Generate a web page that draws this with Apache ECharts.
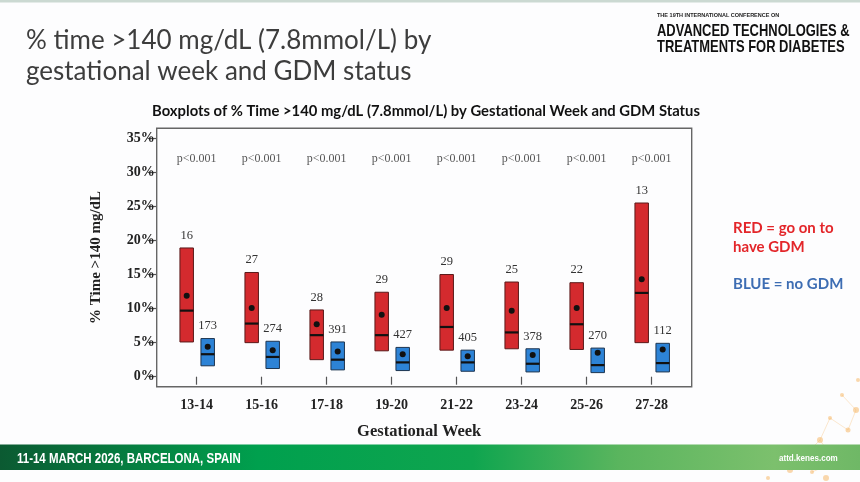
<!DOCTYPE html>
<html>
<head>
<meta charset="utf-8">
<title>% time >140 mg/dL by gestational week and GDM status</title>
<script src="https://cdn.jsdelivr.net/npm/echarts@6/dist/echarts.min.js"></script>
<style>
  html, body { margin: 0; padding: 0; background: #fdfdfe; }
  #chart { width: 860px; height: 482px; }
</style>
</head>
<body>
<div id="chart"></div>
<script>
// gestational week groups
var weeks = ['13-14', '15-16', '17-18', '19-20', '21-22', '23-24', '25-26', '27-28'];
var pValues = ['p<0.001', 'p<0.001', 'p<0.001', 'p<0.001', 'p<0.001', 'p<0.001', 'p<0.001', 'p<0.001'];
var pValueLevel = 32;

// RED: went on to have GDM (% time >140 mg/dL)
var gdmN = [16, 27, 28, 29, 29, 25, 22, 13];
var gdmQ1 = [5.1, 5.0, 2.5, 3.8, 3.9, 4.1, 4.0, 5.0];
var gdmMedian = [9.7, 7.8, 6.1, 6.1, 7.3, 6.5, 7.7, 12.3];
var gdmQ3 = [18.9, 15.3, 9.8, 12.4, 15.0, 13.9, 13.8, 25.5];
var gdmMean = [11.9, 10.1, 7.7, 9.1, 10.1, 9.7, 10.1, 14.3];

// BLUE: no GDM
var noGdmN = [173, 274, 391, 427, 405, 378, 270, 112];
var noGdmQ1 = [1.6, 1.2, 1.0, 0.9, 0.8, 0.7, 0.6, 0.7];
var noGdmMedian = [3.3, 2.9, 2.5, 2.1, 2.1, 1.9, 1.7, 2.0];
var noGdmQ3 = [5.6, 5.2, 5.1, 4.3, 3.9, 4.1, 4.2, 4.9];
var noGdmMean = [4.4, 3.9, 3.7, 3.3, 3.0, 3.2, 3.5, 4.0];

var yTicks = [0, 35, 5]; // min, max, step

var chart = echarts.init(document.getElementById('chart'), null, { renderer: 'canvas' });

function boxData(q1, med, q3, mean, n) {
    var out = [];
    for (var i = 0; i < weeks.length; i++) {
        out.push([i, q1[i], med[i], q3[i], mean[i], n[i]]);
    }
    return out;
}

function boxRenderer(shift, fill, stroke) {
    return function (params, api) {
        var i = api.value(0);
        var cx = api.coord([i, 0])[0] + shift;
        var yLow = api.coord([i, api.value(1)])[1];
        var yMed = api.coord([i, api.value(2)])[1];
        var yHigh = api.coord([i, api.value(3)])[1];
        var yMean = api.coord([i, api.value(4)])[1];
        var w = 13.5;
        return {
            type: 'group',
            children: [
                { type: 'rect', shape: { x: cx - w / 2, y: yHigh, width: w, height: yLow - yHigh },
                  style: { fill: fill, stroke: stroke, lineWidth: 1 } },
                { type: 'line', shape: { x1: cx - w / 2, y1: yMed, x2: cx + w / 2, y2: yMed },
                  style: { stroke: '#111', lineWidth: 2.2 } },
                { type: 'circle', shape: { cx: cx, cy: yMean, r: 3 }, style: { fill: '#111' } },
                { type: 'text', x: cx, y: yHigh - 6,
                  style: { text: String(api.value(5)), fill: '#333', font: '12.5px "Liberation Serif", serif',
                           align: 'center', verticalAlign: 'bottom' } }
            ]
        };
    };
}

var pData = [];
for (var k = 0; k < weeks.length; k++) pData.push([k, pValueLevel]);

// condensed header / footer lettering
function narrowText(x, y, text, size, scale, color, lineHeight) {
    return {
        type: 'text', x: x, y: y, scaleX: scale, z: 9,
        style: { text: text, fill: color, lineHeight: lineHeight || size * 1.2, verticalAlign: 'top',
                 font: 'bold ' + size + 'px "Liberation Sans", Arial, sans-serif' }
    };
}

// little orange network in the corner
var netDots = [];
var dots = [[790, 470, 3], [805, 455, 2.5], [820, 440, 3], [835, 462, 4], [848, 430, 2.5], [856, 410, 3],
            [842, 395, 2], [830, 418, 2], [812, 472, 2], [768, 478, 2], [852, 448, 2.5], [858, 380, 2], [826, 478, 3]];
for (var d = 0; d < dots.length; d++) {
    netDots.push({ type: 'circle', shape: { cx: dots[d][0], cy: dots[d][1], r: dots[d][2] },
                   style: { fill: '#f5a94a', opacity: 0.45 }, z: 0 });
}
var netLines = [[790, 470, 805, 455], [805, 455, 820, 440], [820, 440, 835, 462], [820, 440, 830, 418],
                [830, 418, 848, 430], [848, 430, 856, 410], [842, 395, 856, 410], [835, 462, 852, 448], [812, 472, 835, 462]];
for (var l = 0; l < netLines.length; l++) {
    netDots.push({ type: 'line', shape: { x1: netLines[l][0], y1: netLines[l][1], x2: netLines[l][2], y2: netLines[l][3] },
                   style: { stroke: '#f5b865', lineWidth: 0.8, opacity: 0.4 }, z: 0 });
}

var serif = '"Liberation Serif", "Times New Roman", serif';

var option = {
    backgroundColor: '#fdfdfe',
    animation: false,
    title: [{
        text: '% time >140 mg/dL (7.8mmol/L) by\ngestational week and GDM status',
        left: 21, top: 20,
        textStyle: { fontFamily: 'Lato, "Open Sans", sans-serif', fontWeight: 'normal', fontSize: 26,
                     lineHeight: 31, color: '#3d3d3d' }
    }, {
        text: 'Boxplots of % Time >140 mg/dL (7.8mmol/L) by Gestational Week and GDM Status',
        left: 421, top: 99, textAlign: 'center',
        textStyle: { fontFamily: 'Lato, "Open Sans", sans-serif', fontWeight: 'bold', fontSize: 14.8, color: '#111' }
    }],
    grid: { left: 164.2, top: 138.3, width: 520, height: 238.4, containLabel: false },
    xAxis: {
        type: 'category',
        data: weeks,
        offset: 10,
        axisLine: { show: false },
        axisTick: { show: true, alignWithLabel: true, length: 8, lineStyle: { color: '#555', width: 1.2 } },
        axisLabel: { margin: 12, color: '#222', fontFamily: serif, fontWeight: 'bold', fontSize: 14 },
        name: 'Gestational Week',
        nameLocation: 'middle',
        nameGap: 37,
        nameTextStyle: { color: '#222', fontFamily: serif, fontWeight: 'bold', fontSize: 16.5,
                         padding: [0, 10, 0, 0] }
    },
    yAxis: {
        type: 'value',
        min: yTicks[0], max: yTicks[1], interval: yTicks[2],
        offset: 7.5,
        splitLine: { show: false },
        axisLine: { show: false },
        axisTick: { show: true, length: 9, lineStyle: { color: '#555', width: 1.2 } },
        axisLabel: { margin: 2, formatter: '{value}%', color: '#222', fontFamily: serif,
                     fontWeight: 'bold', fontSize: 14 },
        name: '% Time >140 mg/dL',
        nameLocation: 'middle',
        nameRotate: 90,
        nameGap: 53,
        nameTextStyle: { color: '#222', fontFamily: serif, fontWeight: 'bold', fontSize: 15 }
    },
    series: [{
        name: 'GDM',
        type: 'custom',
        clip: false,
        renderItem: boxRenderer(-10, '#d42a2e', '#5a1a1a'),
        encode: { x: 0, y: [1, 2, 3, 4] },
        data: boxData(gdmQ1, gdmMedian, gdmQ3, gdmMean, gdmN),
        z: 3
    }, {
        name: 'no GDM',
        type: 'custom',
        clip: false,
        renderItem: boxRenderer(11, '#2d83d6', '#1d3550'),
        encode: { x: 0, y: [1, 2, 3, 4] },
        data: boxData(noGdmQ1, noGdmMedian, noGdmQ3, noGdmMean, noGdmN),
        z: 3
    }, {
        name: 'p',
        type: 'scatter',
        symbolSize: 0,
        data: pData,
        label: {
            show: true, position: 'inside',
            formatter: function (p) { return pValues[p.dataIndex]; },
            color: '#2a2a2a', fontFamily: serif, fontSize: 12
        }
    }],
    graphic: [
        // top strip
        { type: 'rect', shape: { x: 0, y: 0, width: 860, height: 2.5 }, style: { fill: '#cbd9d2' }, z: 10 },
        // plot frame
        { type: 'rect', shape: { x: 156.7, y: 128.3, width: 535, height: 258.4 },
          style: { fill: 'none', stroke: '#666', lineWidth: 1.4 }, z: 5 },
        // conference header
        narrowText(657, 12, 'THE 19TH INTERNATIONAL CONFERENCE ON', 6, 0.92, '#222'),
        narrowText(657, 23, 'ADVANCED TECHNOLOGIES &\nTREATMENTS FOR DIABETES', 16.5, 0.785, '#111', 16.5),
        // legend notes
        { type: 'text', left: 733, top: 219,
          style: { text: 'RED = go on to\nhave GDM', fill: '#e3262a', lineHeight: 19,
                   font: 'bold 15px Lato, "Open Sans", sans-serif' } },
        { type: 'text', left: 733, top: 277,
          style: { text: 'BLUE = no GDM', fill: '#3d6db3',
                   font: 'bold 15px Lato, "Open Sans", sans-serif' } },
        // footer band
        { type: 'rect', shape: { x: 0, y: 444.5, width: 860, height: 25.5 }, z: 8,
          style: { fill: new echarts.graphic.LinearGradient(0, 0, 1, 0, [
              { offset: 0, color: '#0b5a32' },
              { offset: 0.3, color: '#00a04e' },
              { offset: 0.55, color: '#0fa54f' },
              { offset: 0.72, color: '#5ab55e' },
              { offset: 0.9, color: '#7cc06d' },
              { offset: 1, color: '#6fb866' }
          ]) } },
        narrowText(17, 451, '11-14 MARCH 2026, BARCELONA, SPAIN', 14, 0.82, '#fff'),
        narrowText(779, 453, 'attd.kenes.com', 9.5, 0.85, '#fff')
    ].concat(netDots)
};

chart.setOption(option);
</script>
</body>
</html>
